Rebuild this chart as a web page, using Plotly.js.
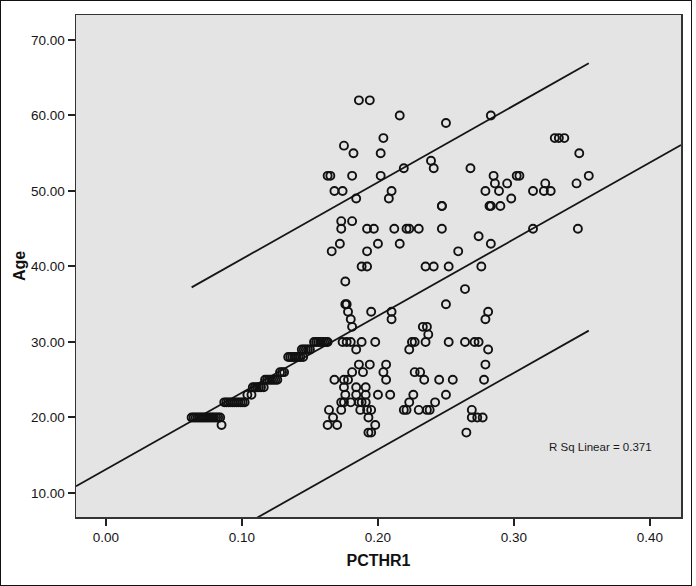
<!DOCTYPE html>
<html>
<head>
<meta charset="utf-8">
<script src="https://cdn.plot.ly/plotly-3.0.1.min.js"></script>
<style>
  body { margin: 0; background: #fff; }
  #wrap { position: relative; width: 696px; height: 586px; }
  #frame { position: absolute; left: 0; top: 0; width: 692px; height: 586px;
           border: 1.5px solid #111; box-sizing: border-box; pointer-events: none; }
</style>
</head>
<body>
<div id="wrap">
  <div id="plot"></div>
  <div id="frame"></div>
</div>
<script>
// PCTHR1 / Age pairs, grouped by age row
const pcthr1 = [
  // staircase
  0.063, 0.0645, 0.066, 0.0675, 0.069, 0.0705, 0.072, 0.0735, 0.075, 0.0765, 0.078, 0.0795, 0.081, 0.0825, 0.084,
  0.085,
  0.087, 0.0885, 0.090, 0.0915, 0.093, 0.0945, 0.096, 0.0975, 0.099, 0.1005, 0.102,
  0.104, 0.107,
  0.108, 0.1095, 0.111, 0.1125, 0.114, 0.116,
  0.117, 0.1185, 0.120, 0.1215, 0.123, 0.1245, 0.126,
  0.128, 0.1295, 0.131,
  0.134, 0.1355, 0.137, 0.1385, 0.140, 0.1415, 0.143, 0.145,
  0.144, 0.1455, 0.147, 0.1485, 0.150,
  0.153, 0.1545, 0.156, 0.1575, 0.159, 0.1605, 0.162, 0.163,
  // cloud
  0.186, 0.194,
  0.216, 0.283,
  0.250,
  0.204, 0.330, 0.333, 0.337,
  0.175,
  0.182, 0.202, 0.348,
  0.239,
  0.219, 0.241, 0.268,
  0.163, 0.165, 0.181, 0.202, 0.285, 0.302, 0.304, 0.355,
  0.286, 0.295, 0.323, 0.346,
  0.168, 0.174, 0.210, 0.279, 0.289, 0.314, 0.322, 0.327,
  0.184, 0.208, 0.298,
  0.247, 0.247, 0.282, 0.283, 0.290,
  0.173, 0.181,
  0.173, 0.192, 0.197, 0.212, 0.221, 0.223, 0.230, 0.247, 0.314, 0.347,
  0.274,
  0.172, 0.200, 0.216, 0.283,
  0.166, 0.192, 0.259,
  0.188, 0.192, 0.235, 0.241, 0.252, 0.276,
  0.176,
  0.264,
  0.176, 0.177, 0.250,
  0.178, 0.195, 0.210, 0.281,
  0.180, 0.210, 0.279,
  0.181, 0.233, 0.236,
  0.237,
  0.174, 0.177, 0.180, 0.188, 0.198, 0.225, 0.227, 0.235, 0.252, 0.264, 0.271, 0.274,
  0.184, 0.223, 0.281,
  0.186, 0.194, 0.206, 0.279,
  0.181, 0.189, 0.204, 0.227, 0.231,
  0.168, 0.175, 0.178, 0.206, 0.234, 0.245, 0.255, 0.278,
  0.175, 0.184, 0.191,
  0.176, 0.184, 0.191, 0.200, 0.209, 0.226, 0.250,
  0.173, 0.175, 0.180, 0.186, 0.188, 0.191, 0.223, 0.242,
  0.164, 0.173, 0.187, 0.192, 0.195, 0.219, 0.221, 0.230, 0.236, 0.238, 0.269,
  0.167, 0.193, 0.269, 0.273, 0.277,
  0.163, 0.170, 0.198,
  0.193, 0.195, 0.265
];
const age = [
  20, 20, 20, 20, 20, 20, 20, 20, 20, 20, 20, 20, 20, 20, 20,
  19,
  22, 22, 22, 22, 22, 22, 22, 22, 22, 22, 22,
  23, 23,
  24, 24, 24, 24, 24, 24,
  25, 25, 25, 25, 25, 25, 25,
  26, 26, 26,
  28, 28, 28, 28, 28, 28, 28, 28,
  29, 29, 29, 29, 29,
  30, 30, 30, 30, 30, 30, 30, 30,
  62, 62,
  60, 60,
  59,
  57, 57, 57, 57,
  56,
  55, 55, 55,
  54,
  53, 53, 53,
  52, 52, 52, 52, 52, 52, 52, 52,
  51, 51, 51, 51,
  50, 50, 50, 50, 50, 50, 50, 50,
  49, 49, 49,
  48, 48, 48, 48, 48,
  46, 46,
  45, 45, 45, 45, 45, 45, 45, 45, 45, 45,
  44,
  43, 43, 43, 43,
  42, 42, 42,
  40, 40, 40, 40, 40, 40,
  38,
  37,
  35, 35, 35,
  34, 34, 34, 34,
  33, 33, 33,
  32, 32, 32,
  31,
  30, 30, 30, 30, 30, 30, 30, 30, 30, 30, 30, 30,
  29, 29, 29,
  27, 27, 27, 27,
  26, 26, 26, 26, 26,
  25, 25, 25, 25, 25, 25, 25, 25,
  24, 24, 24,
  23, 23, 23, 23, 23, 23, 23,
  22, 22, 22, 22, 22, 22, 22, 22,
  21, 21, 21, 21, 21, 21, 21, 21, 21, 21, 21,
  20, 20, 20, 20, 20,
  19, 19, 19,
  18, 18, 18
];

// fit line and prediction band
const fitIntercept = 13.13;
const fitSlope = 101.6;
const bandHalf = 17.7;
const rSqText = 'R Sq Linear = 0.371';

const xRange = [-0.022, 0.4228];
const yRange = [6.82, 73.3];

const xMin = Math.min(...pcthr1);
const xMax = Math.max(...pcthr1);
const fitX = xRange;
const fitY = fitX.map(x => fitIntercept + fitSlope * x);
const bandX = [xMin, xMax];
const upperY = bandX.map(x => fitIntercept + fitSlope * x + bandHalf);
const lowerY = bandX.map(x => fitIntercept + fitSlope * x - bandHalf);

const lineStyle = {color: '#151515', width: 1.8};

const traces = [
  {x: fitX, y: fitY, type: 'scatter', mode: 'lines', line: lineStyle, hoverinfo: 'skip'},
  {x: bandX, y: upperY, type: 'scatter', mode: 'lines', line: lineStyle, hoverinfo: 'skip'},
  {x: bandX, y: lowerY, type: 'scatter', mode: 'lines', line: lineStyle, hoverinfo: 'skip'},
  {
    x: pcthr1, y: age, type: 'scatter', mode: 'markers',
    marker: {symbol: 'circle-open', size: 8, color: '#111', line: {width: 1.9, color: '#111'}}
  }
];

const tickFont = {family: 'Liberation Sans, Arial, sans-serif', size: 13.5, color: '#151515'};
const titleFont = {family: 'Liberation Sans, Arial, sans-serif', size: 16, color: '#111', weight: 'bold'};

const layout = {
  width: 696,
  height: 586,
  margin: {l: 76, r: 15, t: 15, b: 69},
  paper_bgcolor: '#fff',
  plot_bgcolor: '#e4e4e4',
  showlegend: false,
  xaxis: {
    range: xRange,
    tickvals: [0, 0.1, 0.2, 0.3, 0.4],
    tickformat: '.2f',
    ticks: 'outside', ticklen: 7, tickwidth: 2, tickcolor: '#222',
    showgrid: false, zeroline: false,
    showline: true, mirror: true, linecolor: '#333', linewidth: 1.5,
    tickfont: tickFont,
    title: {text: 'PCTHR1', font: titleFont, standoff: 11}
  },
  yaxis: {
    range: yRange,
    tickvals: [10, 20, 30, 40, 50, 60, 70],
    tickformat: '.2f',
    ticks: 'outside', ticklen: 7, tickwidth: 2, tickcolor: '#222',
    showgrid: false, zeroline: false,
    showline: true, mirror: true, linecolor: '#333', linewidth: 1.5,
    tickfont: tickFont,
    title: {text: 'Age', font: titleFont, standoff: 1}
  },
  annotations: [{
    x: 0.3636, y: 16.05, xref: 'x', yref: 'y',
    text: rSqText, showarrow: false,
    font: {family: 'Liberation Sans, Arial, sans-serif', size: 11.5, color: '#1a1a1a'}
  }]
};

Plotly.newPlot('plot', traces, layout, {staticPlot: true});
</script>
</body>
</html>
